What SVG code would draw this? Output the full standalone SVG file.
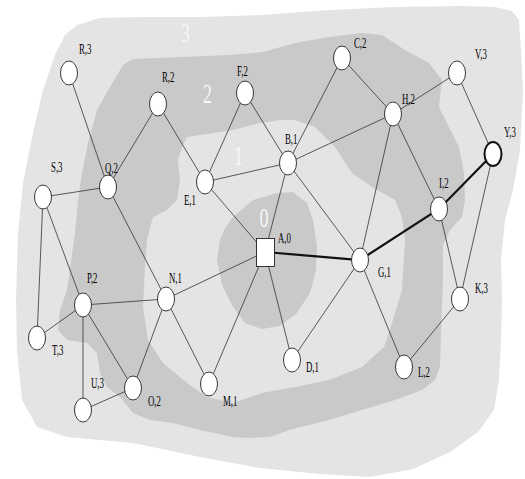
<svg xmlns="http://www.w3.org/2000/svg" width="525" height="479" viewBox="0 0 525 479">
<style>
.light{fill:#e4e4e4;stroke:none}
.dark{fill:#c9c9c9;stroke:none}
.e{stroke:#333;stroke-width:0.8;fill:none}
.thick{stroke:#111;stroke-width:2.2;fill:none}
.n{fill:#fff;stroke:#222;stroke-width:0.9}
.lbl{font-family:"Liberation Serif","Times New Roman",serif;font-size:8.8px;fill:#000}
.zone{font-family:"Liberation Serif","Times New Roman",serif;font-size:18px;fill:#f7f7f7}
</style>
<rect width="525" height="479" fill="#fff"/>
<g id="regions">
<path class="light" d="M77,25 L100,18 L140,17 L200,17 L262,15 L330,10 L395,7 L460,6 L495,7 L512,11 L519,20 L521,50 L523,90 L520,150 L513,190 L505,220 L501,260 L502,300 L501,340 L499,380 L494,410 L478,432 L450,452 L413,469 L370,477 L320,474 L260,468 L200,457 L133,443 L67,437 L37,427 L22,400 L17,350 L16,300 L18,233 L23,183 L33,133 L43,90 L55,55 L65,35 Z"/>
<path class="dark" d="M123,65 L133,59 L180,57 L230,55 L263,52 L295,43 L329,37 L362,33 L382,35 L405,50 L429,63 L442,80 L439,107 L449,127 L459,147 L464,173 L465,200 L462,217 L450,230 L443,245 L443,280 L441,330 L440,367 L435,380 L422,390 L395,400 L362,410 L329,420 L289,430 L270,437 L250,438 L233,437 L200,430 L173,423 L150,420 L133,413 L120,397 L107,387 L100,373 L97,353 L87,343 L67,340 L58,330 L60,310 L67,290 L75,233 L78,200 L82,173 L88,143 L97,110 L110,87 Z"/>
<path class="light" d="M182,147 L187,137 L233,130 L260,123 L280,120 L295,120 L315,127 L335,147 L352,173 L372,187 L395,200 L402,217 L405,240 L402,290 L392,323 L384,347 L362,367 L329,380 L295,387 L262,393 L233,403 L207,397 L187,383 L163,363 L148,340 L143,307 L145,267 L147,240 L153,217 L167,210 L177,200 L180,180 L178,160 Z"/>
<path class="dark" d="M233,217 L253,200 L277,193 L293,192 L307,203 L313,220 L317,247 L316,270 L310,293 L297,313 L280,326 L262,329 L245,323 L233,307 L222,285 L217,260 L220,240 L225,228 Z"/>
<text class="zone" transform="translate(181,42) scale(1,1.5)">3</text>
<text class="zone" transform="translate(203,103) scale(1,1.5)">2</text>
<text class="zone" transform="translate(234,165) scale(1,1.5)">1</text>
<text class="zone" transform="translate(259.5,227) scale(1,1.5)">0</text>
</g>
<g id="connectors">
<line class="e" x1="69" y1="73" x2="108" y2="187"/>
<line class="e" x1="158" y1="104" x2="108" y2="187"/>
<line class="e" x1="158" y1="104" x2="205" y2="182"/>
<line class="e" x1="43" y1="197" x2="108" y2="187"/>
<line class="e" x1="43" y1="197" x2="37" y2="338"/>
<line class="e" x1="43" y1="197" x2="83" y2="305"/>
<line class="e" x1="108" y1="187" x2="166" y2="299"/>
<line class="e" x1="245" y1="93" x2="205" y2="182"/>
<line class="e" x1="245" y1="93" x2="288" y2="163"/>
<line class="e" x1="205" y1="182" x2="288" y2="163"/>
<line class="e" x1="205" y1="182" x2="265" y2="252"/>
<line class="e" x1="342" y1="58" x2="288" y2="163"/>
<line class="e" x1="342" y1="58" x2="393" y2="114"/>
<line class="e" x1="393" y1="114" x2="288" y2="163"/>
<line class="e" x1="393" y1="114" x2="457" y2="73"/>
<line class="e" x1="393" y1="114" x2="360" y2="260"/>
<line class="e" x1="393" y1="114" x2="439" y2="209"/>
<line class="e" x1="457" y1="73" x2="493" y2="154"/>
<line class="e" x1="493" y1="154" x2="460" y2="299"/>
<line class="e" x1="439" y1="209" x2="460" y2="299"/>
<line class="e" x1="288" y1="163" x2="265" y2="252"/>
<line class="e" x1="288" y1="163" x2="360" y2="260"/>
<line class="e" x1="265" y1="252" x2="166" y2="299"/>
<line class="e" x1="265" y1="252" x2="209" y2="384"/>
<line class="e" x1="265" y1="252" x2="292" y2="360"/>
<line class="e" x1="360" y1="260" x2="292" y2="360"/>
<line class="e" x1="360" y1="260" x2="404" y2="367"/>
<line class="e" x1="460" y1="299" x2="404" y2="367"/>
<line class="e" x1="166" y1="299" x2="83" y2="305"/>
<line class="e" x1="166" y1="299" x2="209" y2="384"/>
<line class="e" x1="166" y1="299" x2="133" y2="388"/>
<line class="e" x1="83" y1="305" x2="37" y2="338"/>
<line class="e" x1="83" y1="305" x2="83" y2="410"/>
<line class="e" x1="83" y1="305" x2="133" y2="388"/>
<line class="e" x1="83" y1="410" x2="133" y2="388"/>
<polyline class="thick" points="265,252 360,260 439,209 493,154"/>
</g>
<g id="node-R3"><ellipse class="n" cx="69" cy="73" rx="8.5" ry="12"/><text class="lbl" transform="translate(79,54) scale(1,1.6)">R,3</text></g>
<g id="node-R2"><ellipse class="n" cx="158" cy="104" rx="8.5" ry="12"/><text class="lbl" transform="translate(162,82) scale(1,1.6)">R,2</text></g>
<g id="node-F2"><ellipse class="n" cx="245" cy="93" rx="8.5" ry="12"/><text class="lbl" transform="translate(237,76) scale(1,1.6)">F,2</text></g>
<g id="node-C2"><ellipse class="n" cx="342" cy="58" rx="8.5" ry="12"/><text class="lbl" transform="translate(354,48) scale(1,1.6)">C,2</text></g>
<g id="node-V3"><ellipse class="n" cx="457" cy="73" rx="8.5" ry="12"/><text class="lbl" transform="translate(475,59) scale(1,1.6)">V,3</text></g>
<g id="node-H2"><ellipse class="n" cx="393" cy="114" rx="8.5" ry="12"/><text class="lbl" transform="translate(402,104) scale(1,1.6)">H,2</text></g>
<g id="node-Y3"><ellipse class="n" cx="493" cy="154" rx="8.5" ry="12" style="stroke-width:2;stroke:#111"/><text class="lbl" transform="translate(504,137) scale(1,1.6)">Y,3</text></g>
<g id="node-B1"><ellipse class="n" cx="288" cy="163" rx="8.5" ry="12"/><text class="lbl" transform="translate(285,144) scale(1,1.6)">B,1</text></g>
<g id="node-E1"><ellipse class="n" cx="205" cy="182" rx="8.5" ry="12"/><text class="lbl" transform="translate(184,205) scale(1,1.6)">E,1</text></g>
<g id="node-Q2"><ellipse class="n" cx="108" cy="187" rx="8.5" ry="12"/><text class="lbl" transform="translate(105,173) scale(1,1.6)">Q,2</text></g>
<g id="node-S3"><ellipse class="n" cx="43" cy="197" rx="8.5" ry="12"/><text class="lbl" transform="translate(51,172) scale(1,1.6)">S,3</text></g>
<g id="node-I2"><ellipse class="n" cx="439" cy="209" rx="8.5" ry="12"/><text class="lbl" transform="translate(439,188) scale(1,1.6)">I,2</text></g>
<g id="node-A0"><rect x="256.5" y="238.5" width="18" height="28" fill="#fff" stroke="#222" stroke-width="0.9"/><text class="lbl" transform="translate(278,243) scale(1,1.6)">A,0</text></g>
<g id="node-G1"><ellipse class="n" cx="360" cy="260" rx="8.5" ry="12"/><text class="lbl" transform="translate(378,277) scale(1,1.6)">G,1</text></g>
<g id="node-N1"><ellipse class="n" cx="166" cy="299" rx="8.5" ry="12"/><text class="lbl" transform="translate(169,283) scale(1,1.6)">N,1</text></g>
<g id="node-P2"><ellipse class="n" cx="83" cy="305" rx="8.5" ry="12"/><text class="lbl" transform="translate(87,283) scale(1,1.6)">P,2</text></g>
<g id="node-K3"><ellipse class="n" cx="460" cy="299" rx="8.5" ry="12"/><text class="lbl" transform="translate(475,293) scale(1,1.6)">K,3</text></g>
<g id="node-T3"><ellipse class="n" cx="37" cy="338" rx="8.5" ry="12"/><text class="lbl" transform="translate(52,355) scale(1,1.6)">T,3</text></g>
<g id="node-D1"><ellipse class="n" cx="292" cy="360" rx="8.5" ry="12"/><text class="lbl" transform="translate(306,372) scale(1,1.6)">D,1</text></g>
<g id="node-L2"><ellipse class="n" cx="404" cy="367" rx="8.5" ry="12"/><text class="lbl" transform="translate(418,377) scale(1,1.6)">L,2</text></g>
<g id="node-M1"><ellipse class="n" cx="209" cy="384" rx="8.5" ry="12"/><text class="lbl" transform="translate(223,406) scale(1,1.6)">M,1</text></g>
<g id="node-O2"><ellipse class="n" cx="133" cy="388" rx="8.5" ry="12"/><text class="lbl" transform="translate(148,406) scale(1,1.6)">O,2</text></g>
<g id="node-U3"><ellipse class="n" cx="83" cy="410" rx="8.5" ry="12"/><text class="lbl" transform="translate(91,388) scale(1,1.6)">U,3</text></g>
</svg>
